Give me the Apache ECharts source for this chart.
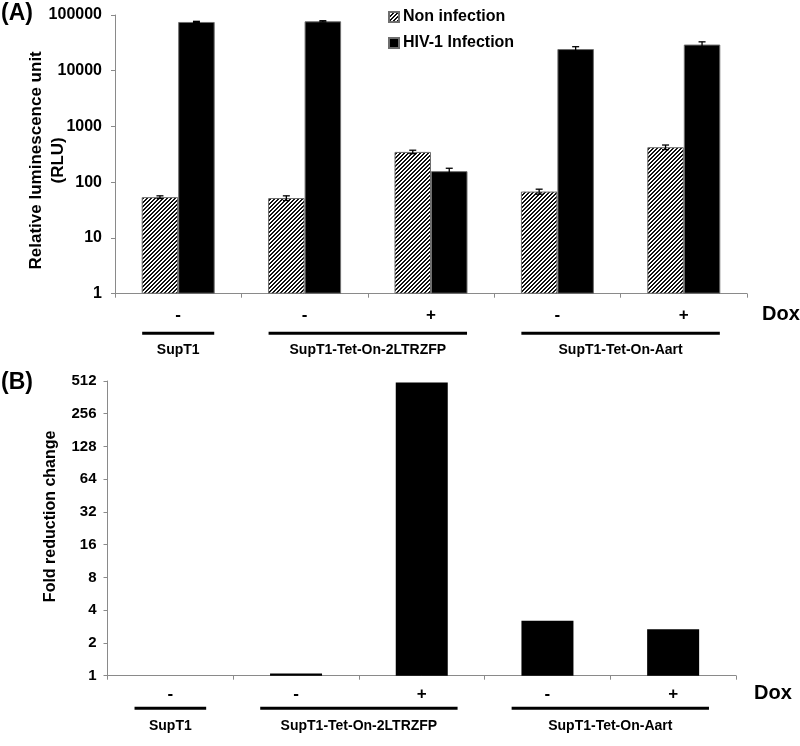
<!DOCTYPE html>
<html>
<head>
<meta charset="utf-8">
<script src="https://cdn.jsdelivr.net/npm/echarts@6/dist/echarts.min.js"></script>
<style>
html,body{margin:0;padding:0;background:#fff;}
#main{width:800px;height:746px;}
</style>
</head>
<body>
<div id="main"></div>
<script>
// ---- data ----
const categories = ['-', '-', '+', '-', '+'];
const seriesNames = ['Non infection', 'HIV-1 Infection'];
const nonInfection = [54, 52, 350, 68, 425];
const nonInfectionErr = [3, 5, 25, 7, 40];
const hivInfection = [75000, 77000, 158, 24500, 29500];
const hivInfectionErr = [2000, 2000, 20, 2500, 3500];
const foldReduction = [1, 1.05, 495, 3.2, 2.67];
const yTicksA = [1, 10, 100, 1000, 10000, 100000];
const yTicksB = [1, 2, 4, 8, 16, 32, 64, 128, 256, 512];
const groupLabels = ['SupT1', 'SupT1-Tet-On-2LTRZFP', 'SupT1-Tet-On-Aart'];
const groupFrom = [0, 1, 3];
const groupTo = [0, 2, 4];
const doxLabel = 'Dox';

// ---- styling ----
const FONT = 'Arial, "Liberation Sans", sans-serif';
const AXIS_GRAY = '#8a8a8a';
const BAR_W_A = 36.5;
const BAR_W_B = 52;

function makeHatch() {
  const c = document.createElement('canvas');
  c.width = 4; c.height = 4;
  const ctx = c.getContext('2d');
  const img = ctx.createImageData(4, 4);
  for (let y = 0; y < 4; y++) {
    for (let x = 0; x < 4; x++) {
      const k = (y * 4 + x) * 4;
      const dark = ((x + y) % 4) < 2;
      const v = dark ? 15 : 255;
      img.data[k] = v; img.data[k + 1] = v; img.data[k + 2] = v; img.data[k + 3] = 255;
    }
  }
  ctx.putImageData(img, 0, 0);
  return c;
}
const hatch = { image: makeHatch(), repeat: 'repeat' };

const chart = echarts.init(document.getElementById('main'), null, { renderer: 'canvas' });

function errorSeries(name, vals, errs, sign) {
  return {
    name: name,
    type: 'custom',
    xAxisIndex: 0,
    yAxisIndex: 0,
    silent: true,
    z: 10,
    data: vals.map((v, i) => [i, v - errs[i], v + errs[i]]),
    encode: { x: 0, y: [1, 2] },
    renderItem: function (params, api) {
      const i = api.value(0);
      const lo = api.coord([i, api.value(1)]);
      const hi = api.coord([i, api.value(2)]);
      const x = lo[0] + sign * BAR_W_A / 2;
      const cap = 3.5;
      const st = { stroke: '#000', lineWidth: 1.3 };
      return {
        type: 'group',
        children: [
          { type: 'line', shape: { x1: x, y1: lo[1], x2: x, y2: hi[1] }, style: st },
          { type: 'line', shape: { x1: x - cap, y1: hi[1], x2: x + cap, y2: hi[1] }, style: st },
          { type: 'line', shape: { x1: x - cap, y1: lo[1], x2: x + cap, y2: lo[1] }, style: st }
        ]
      };
    }
  };
}

function yAxisCommon(base, max, margin, fs) {
  return {
    type: 'log',
    logBase: base,
    min: 1,
    max: max,
    interval: 1,
    axisLine: { show: true, lineStyle: { color: AXIS_GRAY, width: 1 } },
    axisTick: { show: true, length: 4, lineStyle: { color: AXIS_GRAY } },
    splitLine: { show: false },
    minorTick: { show: false },
    axisLabel: {
      margin: margin,
      color: '#000',
      fontFamily: FONT,
      fontWeight: 'bold',
      fontSize: fs,
      formatter: function (v) { return String(Math.round(v)); }
    }
  };
}

function xAxisCommon(gridIndex, labelMargin) {
  return {
    type: 'category',
    gridIndex: gridIndex,
    data: categories,
    boundaryGap: true,
    axisLine: { show: true, lineStyle: { color: AXIS_GRAY, width: 1 } },
    axisTick: { show: true, length: 4, alignWithLabel: false, lineStyle: { color: AXIS_GRAY } },
    axisLabel: {
      margin: labelMargin,
      color: '#000',
      fontFamily: FONT,
      fontWeight: 'bold',
      fontSize: 17,
      interval: 0
    }
  };
}

const option = {
  backgroundColor: '#fff',
  animation: false,
  textStyle: { fontFamily: FONT },
  grid: [
    { left: 115, right: 53, top: 15, bottom: 452.3, containLabel: false },
    { left: 107.5, right: 64, top: 381, bottom: 70.3, containLabel: false }
  ],
  legend: {
    data: seriesNames,
    orient: 'vertical',
    left: 388,
    top: 9,
    itemWidth: 10,
    itemHeight: 10,
    itemGap: 10,
    icon: 'rect',
    padding: 0,
    textStyle: { color: '#000', fontFamily: FONT, fontWeight: 'bold', fontSize: 16, padding: [0, 0, 0, -1] }
  },
  xAxis: [
    xAxisCommon(0, 13),
    xAxisCommon(1, 10)
  ],
  yAxis: [
    Object.assign(yAxisCommon(10, 100000, 13, 16), {
      gridIndex: 0,
      name: 'Relative luminescence unit\n(RLU)',
      nameLocation: 'middle',
      nameRotate: 90,
      nameGap: 46,
      nameMoveOverlap: false,
      nameTextStyle: { color: '#000', fontFamily: FONT, fontWeight: 'bold', fontSize: 17, lineHeight: 22, padding: [0, 12, 0, 0] }
    }),
    Object.assign(yAxisCommon(2, 512, 11, 15), {
      gridIndex: 1,
      name: 'Fold reduction change',
      nameLocation: 'middle',
      nameRotate: 90,
      nameGap: 49,
      nameMoveOverlap: false,
      nameTextStyle: { color: '#000', fontFamily: FONT, fontWeight: 'bold', fontSize: 16, padding: [0, 0, 0, 24] }
    })
  ],
  series: [
    {
      name: seriesNames[0],
      type: 'bar',
      xAxisIndex: 0, yAxisIndex: 0,
      barWidth: BAR_W_A,
      barGap: '0%',
      data: nonInfection,
      itemStyle: { color: hatch, borderColor: '#6e6e6e', borderWidth: 1 }
    },
    {
      name: seriesNames[1],
      type: 'bar',
      xAxisIndex: 0, yAxisIndex: 0,
      barWidth: BAR_W_A,
      barGap: '0%',
      data: hivInfection,
      itemStyle: { color: '#000', borderColor: '#6e6e6e', borderWidth: 1 }
    },
    errorSeries('errNon', nonInfection, nonInfectionErr, -1),
    errorSeries('errHiv', hivInfection, hivInfectionErr, 1),
    {
      name: 'Fold reduction',
      type: 'bar',
      xAxisIndex: 1, yAxisIndex: 1,
      barWidth: BAR_W_B,
      data: foldReduction,
      itemStyle: { color: '#000', borderWidth: 0 }
    }
  ],
  graphic: []
};

chart.setOption(option);

// ---- group brackets and Dox label, positioned from the axes ----
function groupGraphics(gridIndex, lineOffset, textOffset, doxGap, doxOffset) {
  const out = [];
  const yAxisPix = chart.convertToPixel({ yAxisIndex: gridIndex }, 1);
  const c0 = chart.convertToPixel({ xAxisIndex: gridIndex }, 0);
  const c1 = chart.convertToPixel({ xAxisIndex: gridIndex }, 1);
  const step = c1 - c0;
  const ext = step * 0.285;
  for (let g = 0; g < groupLabels.length; g++) {
    const xa = chart.convertToPixel({ xAxisIndex: gridIndex }, groupFrom[g]) - ext;
    const xb = chart.convertToPixel({ xAxisIndex: gridIndex }, groupTo[g]) + ext;
    out.push({
      type: 'rect',
      shape: { x: xa, y: yAxisPix + lineOffset - 1.5, width: xb - xa, height: 3 },
      style: { fill: '#000' },
      silent: true
    });
    out.push({
      type: 'text',
      x: (xa + xb) / 2,
      y: yAxisPix + textOffset,
      style: {
        text: groupLabels[g],
        fill: '#000',
        font: 'bold 14px ' + FONT,
        align: 'center',
        verticalAlign: 'middle'
      },
      silent: true
    });
  }
  const lastCenter = chart.convertToPixel({ xAxisIndex: gridIndex }, categories.length - 1);
  const axisEnd = lastCenter + step / 2;
  out.push({
    type: 'text',
    x: axisEnd + doxGap,
    y: yAxisPix + doxOffset,
    style: {
      text: doxLabel,
      fill: '#000',
      font: 'bold 20px ' + FONT,
      align: 'left',
      verticalAlign: 'middle'
    },
    silent: true
  });
  return out;
}

const graphics = []
  .concat(groupGraphics(0, 39.5, 56.5, 15, 21))
  .concat(groupGraphics(1, 32.5, 50.5, 18, 18));
graphics.push({
  type: 'text', left: 1, top: 2,
  style: { text: '(A)', fill: '#000', font: 'bold 23px ' + FONT }
});
graphics.push({
  type: 'text', left: 1, top: 371,
  style: { text: '(B)', fill: '#000', font: 'bold 23px ' + FONT }
});
chart.setOption({ graphic: graphics });
</script>
</body>
</html>
